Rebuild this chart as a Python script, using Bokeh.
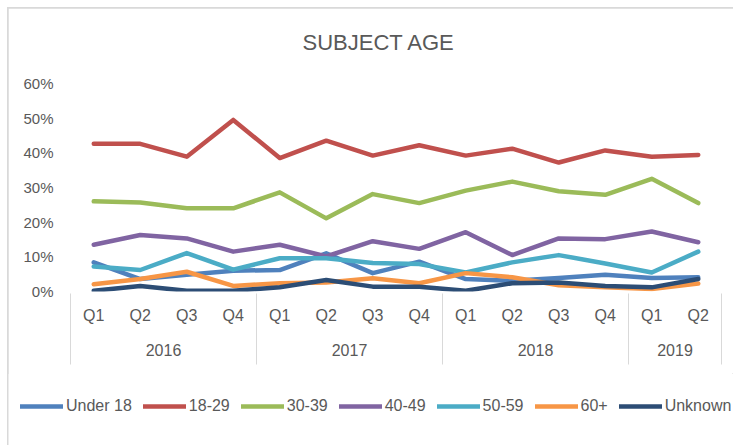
from bokeh.plotting import figure
from bokeh.layouts import column
from bokeh.models import (ColumnDataSource, Range1d, LinearAxis, FixedTicker,
                          NumeralTickFormatter, Legend, LegendItem, Title)
from bokeh.embed import file_html
from bokeh.resources import INLINE

# ---------------- data ----------------
quarters = ["Q1", "Q2", "Q3", "Q4", "Q1", "Q2", "Q3", "Q4",
            "Q1", "Q2", "Q3", "Q4", "Q1", "Q2"]
years = ["2016", "2017", "2018", "2019"]
year_counts = [4, 4, 4, 2]

series_names = ["Under 18", "18-29", "30-39", "40-49", "50-59", "60+", "Unknown"]
under_18 = [8.4, 3.6, 4.8, 6.0, 6.2, 11.0, 5.3, 8.6, 3.6, 3.1, 3.9, 4.8, 3.9, 4.1]
age_18_29 = [42.6, 42.6, 38.9, 49.5, 38.5, 43.5, 39.2, 42.2, 39.2, 41.2, 37.2, 40.7, 38.9, 39.4]
age_30_39 = [26.0, 25.7, 24.0, 24.0, 28.6, 21.1, 28.1, 25.5, 29.1, 31.7, 28.9, 27.9, 32.5, 25.5]
age_40_49 = [13.5, 16.3, 15.3, 11.5, 13.5, 10.1, 14.5, 12.3, 17.1, 10.5, 15.3, 15.1, 17.3, 14.2]
age_50_59 = [7.2, 6.2, 11.1, 6.3, 9.6, 9.6, 8.2, 7.9, 5.5, 8.4, 10.5, 8.1, 5.5, 11.5]
age_60_plus = [2.1, 3.6, 5.7, 1.6, 2.4, 2.6, 3.8, 2.4, 5.3, 4.1, 1.8, 1.2, 0.7, 2.3]
unknown = [0.2, 1.6, 0.2, 0.2, 1.2, 3.3, 1.4, 1.4, 0.2, 2.4, 2.6, 1.6, 1.2, 3.6]

series_values = [under_18, age_18_29, age_30_39, age_40_49, age_50_59, age_60_plus, unknown]
colors = ["#4F81BD", "#C0504D", "#9BBB59", "#8064A2", "#4BACC6", "#F79646", "#2C4D75"]
y_ticks = [0, 0.1, 0.2, 0.3, 0.4, 0.5, 0.6]

# ---------------- derived positions ----------------
n = len(quarters)
xs = [i + 0.5 for i in range(n)]
bounds = [0]
for c in year_counts:
    bounds.append(bounds[-1] + c)
year_centers = [(bounds[i] + bounds[i + 1]) / 2 for i in range(len(years))]
sources = [ColumnDataSource(dict(x=xs, y=[v / 100 for v in vals])) for vals in series_values]

FONT = "Liberation Sans"
TXT = "#595959"
GRID = "#D9D9D9"
LW = 4.5

p = figure(width=725, height=365, output_backend="svg", toolbar_location=None,
           x_range=Range1d(0, n), y_range=Range1d(0, 0.6),
           x_axis_type=None, y_axis_type=None,
           min_border_left=62, min_border_right=12, min_border_top=75,
           min_border_bottom=82)
p.frame_align = False
p.outline_line_color = None
p.background_fill_color = "white"
p.border_fill_color = "white"

# real title (outermost) with a blank spacer title between it and the frame
p.title.text = "SUBJECT AGE"
p.title.align = "left"
p.title.offset = 232
p.title.standoff = 0
p.title.text_font = FONT
p.title.text_font_size = "22px"
p.title.text_font_style = "normal"
p.title.text_color = TXT
spacer_title = Title(text=" ", standoff=2, text_font=FONT, text_font_size="22px")
p.add_layout(spacer_title, "above")

# y axis
yaxis = LinearAxis(ticker=FixedTicker(ticks=y_ticks),
                   formatter=NumeralTickFormatter(format="0%"))
yaxis.axis_line_color = None
yaxis.major_tick_line_color = None
yaxis.minor_tick_line_color = None
yaxis.major_tick_out = 0
yaxis.major_label_standoff = 17
yaxis.major_label_text_font = FONT
yaxis.major_label_text_font_size = "15px"
yaxis.major_label_text_color = TXT
p.add_layout(yaxis, "left")
p.ygrid.ticker = FixedTicker(ticks=y_ticks)
p.ygrid.grid_line_color = GRID
p.ygrid.grid_line_width = 1

# quarter axis
qaxis = LinearAxis(ticker=FixedTicker(ticks=xs))
qaxis.major_label_overrides = {x: q for x, q in zip(xs, quarters)}
qaxis.axis_line_color = None
qaxis.major_tick_line_color = None
qaxis.minor_tick_line_color = None
qaxis.major_tick_out = 0
qaxis.major_label_standoff = 15
qaxis.major_label_text_font = FONT
qaxis.major_label_text_font_size = "16px"
qaxis.major_label_text_color = TXT
p.add_layout(qaxis, "below")

# year axis with group separators drawn as minor ticks
yr_axis = LinearAxis(ticker=FixedTicker(ticks=year_centers, minor_ticks=bounds))
yr_axis.major_label_overrides = {x: y for x, y in zip(year_centers, years)}
yr_axis.axis_line_color = None
yr_axis.major_tick_line_color = None
yr_axis.major_tick_out = 0
yr_axis.minor_tick_line_color = GRID
yr_axis.minor_tick_line_width = 1
yr_axis.minor_tick_in = 33
yr_axis.minor_tick_out = 38
yr_axis.major_label_standoff = -21
yr_axis.major_label_text_font = FONT
yr_axis.major_label_text_font_size = "16px"
yr_axis.major_label_text_color = TXT
p.add_layout(yr_axis, "below")

# lines
for src, col in zip(sources, colors):
    p.line("x", "y", source=src, line_color=col, line_width=LW,
           line_cap="round", line_join="round")

# legend strip (separate figure so the legend can sit under the whole chart);
# the same series are drawn there outside its visible y range, only as legend keys
pl = figure(width=725, height=72, output_backend="svg", toolbar_location=None,
            x_range=Range1d(0, n), y_range=Range1d(1, 2),
            x_axis_type=None, y_axis_type=None,
            min_border_left=0, min_border_right=0, min_border_top=0,
            min_border_bottom=0)
pl.frame_align = False
pl.outline_line_color = None
pl.xgrid.visible = False
pl.ygrid.visible = False
pl.background_fill_color = "white"
pl.border_fill_color = "white"
items = []
for name, src, col in zip(series_names, sources, colors):
    r = pl.line("x", "y", source=src, line_color=col, line_width=LW, line_cap="round")
    items.append(LegendItem(label=name, renderers=[r]))
legend = Legend(items=items, orientation="horizontal", location=(12, 29))
legend.glyph_width = 43
legend.glyph_height = 20
legend.label_standoff = 3
legend.spacing = 11
legend.padding = 0
legend.margin = 0
legend.border_line_color = None
legend.background_fill_alpha = 0
legend.label_text_font = FONT
legend.label_text_font_size = "16px"
legend.label_text_color = TXT
pl.add_layout(legend, "center")

layout = column(p, pl, spacing=0,
                styles={"margin": "8px 0 0 8px",
                        "outline": "2px solid #D9D9D9", "outline-offset": "-1px"})

open("out.html", "w").write(file_html(layout, INLINE))
